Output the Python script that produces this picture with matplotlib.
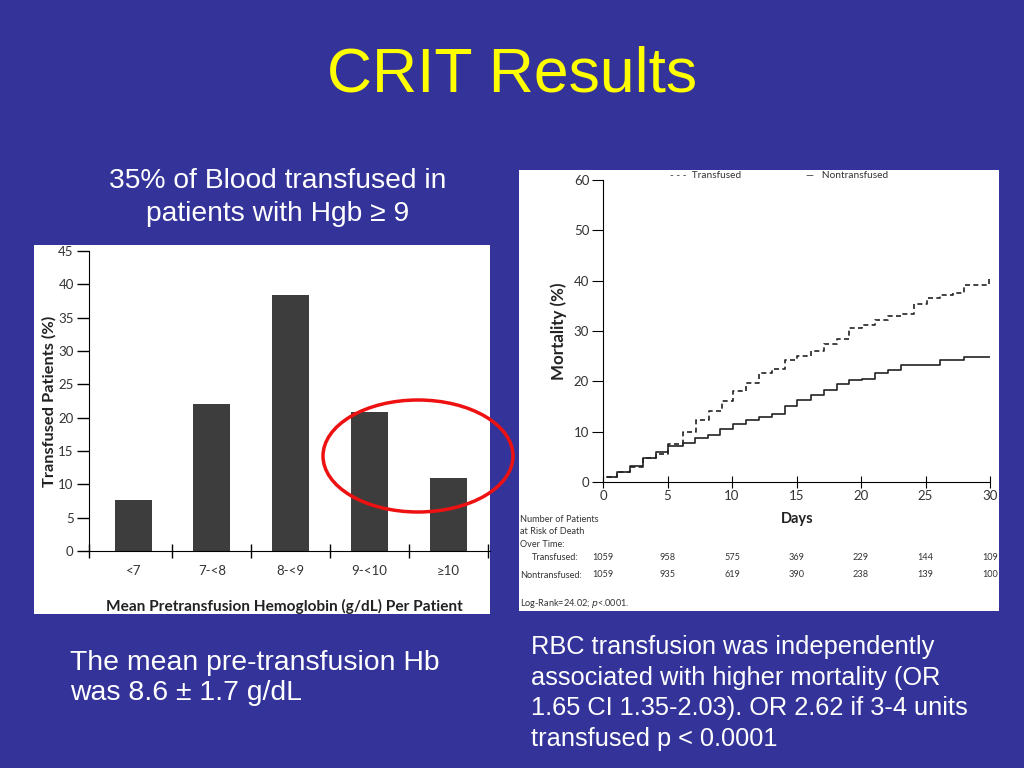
import matplotlib
matplotlib.use("Agg")
import matplotlib.pyplot as plt
from matplotlib.patches import Rectangle, Ellipse

# bar chart data
hgb_groups = ["<7", "7-<8", "8-<9", "9-<10", "\u226510"]
transfused_pct = [7.65, 22.1, 38.4, 20.85, 10.9]

# Kaplan-Meier style curves (step at each day)
days_tr = [0.3, 1.1, 2.1, 3.1, 4.1, 5.0, 6.2, 7.2, 8.2, 9.2, 10.1, 11.1, 12.1, 13.1, 14.1,
           15.0, 16.1, 17.1, 18.1, 19.1, 20.1, 21.1, 22.1, 23.1, 24.1, 25.1, 26.1, 27.1,
           28.0, 29.9, 30.0]
mort_tr = [1.0, 2.0, 3.0, 4.7, 5.6, 7.5, 10.0, 12.4, 14.2, 16.0, 18.0, 19.6, 21.6, 22.5, 24.2,
           25.0, 26.0, 27.5, 28.5, 30.6, 31.2, 32.2, 33.0, 33.4, 35.3, 36.6, 37.1, 37.6,
           39.2, 40.5, 40.5]
days_nt = [0.3, 1.1, 2.1, 3.1, 4.1, 5.0, 6.2, 7.1, 8.1, 9.1, 10.1, 11.1, 12.1, 13.1, 14.1,
           15.0, 16.1, 17.1, 18.1, 19.1, 20.1, 21.1, 22.1, 23.1, 26.1, 28.0, 30.0]
mort_nt = [1.0, 1.9, 3.1, 4.8, 6.0, 7.2, 7.7, 8.8, 9.3, 10.6, 11.6, 12.4, 13.0, 13.5, 15.1,
           16.3, 17.2, 18.2, 19.4, 20.3, 20.5, 21.6, 22.2, 23.2, 24.2, 24.9, 24.9]

risk_days = [0, 5, 10, 15, 20, 25, 30]
risk_tr = ["1059", "958", "575", "369", "229", "144", "109"]
risk_nt = ["1059", "935", "619", "390", "238", "139", "100"]

BG = "#333399"
slide_font = "Liberation Sans"
chart_font = "Lato"
ink = "#333333"

fig = plt.figure(figsize=(10.24, 7.68), dpi=100, facecolor=BG)

fig.text(0.5, 0.902, "CRIT Results", color="#ffff00", fontsize=45,
         ha="center", va="center", family=slide_font)
fig.text(0.271, 0.743, "35% of Blood transfused in\npatients with Hgb \u2265 9", color="white",
         fontsize=20.3, ha="center", va="center", family=slide_font, linespacing=1.36)

# white panels behind the charts
fig.patches.append(Rectangle((0.0332, 0.2005), 0.4453, 0.4805, transform=fig.transFigure,
                             facecolor="white", edgecolor="none", zorder=-5))
fig.patches.append(Rectangle((0.5068, 0.2044), 0.46875, 0.5742, transform=fig.transFigure,
                             facecolor="white", edgecolor="none", zorder=-5))

# ---- bar chart
ax1 = fig.add_axes([0.0869, 0.2826, 0.3916, 0.3906])
ax1.set_facecolor("none")
ax1.bar(range(len(hgb_groups)), transfused_pct, width=0.47, color="#3d3d3d")
ax1.set_xlim(-0.56, 4.53)
ax1.set_ylim(0, 45)
ax1.set_yticks(range(0, 46, 5))
ax1.set_xticks(range(len(hgb_groups)))
ax1.set_xticklabels(hgb_groups)
ax1.set_xticks([-0.56, 0.5, 1.5, 2.5, 3.5, 4.5], minor=True)
ax1.tick_params(axis="x", which="major", length=0, pad=10, labelsize=9.5, labelcolor=ink)
ax1.tick_params(axis="x", which="minor", direction="inout", length=10, width=1)
ax1.tick_params(axis="y", direction="out", length=9, width=1, labelsize=9.5, labelcolor=ink, pad=2)
for lab in ax1.get_xticklabels() + ax1.get_yticklabels():
    lab.set_family(chart_font)
for s in ["top", "right"]:
    ax1.spines[s].set_visible(False)
ax1.set_ylabel("Transfused Patients (%)", fontsize=11.8, fontweight="bold", family=chart_font,
               color="#222222", labelpad=1)
fig.text(0.2775, 0.210, "Mean Pretransfusion Hemoglobin (g/dL) Per Patient", fontsize=11.1,
         fontweight="bold", family=chart_font, color="#222222", ha="center", va="center")

# red ellipse around the two highest Hgb groups
fig.patches.append(Ellipse((418 / 1024, 1 - 456 / 768), 190 / 1024, 112 / 768,
                           transform=fig.transFigure, facecolor="none",
                           edgecolor="#ee1111", linewidth=2.5, zorder=5))

# ---- mortality curves
ax2 = fig.add_axes([0.5889, 0.3724, 0.3779, 0.3932])
ax2.set_facecolor("none")
ax2.step(days_tr, mort_tr, where="post", color="#222222", linewidth=1.2, linestyle=(0, (3, 2)))
ax2.step(days_nt, mort_nt, where="post", color="#222222", linewidth=1.2)
ax2.set_xlim(0, 30)
ax2.set_ylim(0, 60)
ax2.set_xticks(range(0, 31, 5))
ax2.set_yticks(range(0, 61, 10))
ax2.tick_params(axis="x", direction="inout", length=8, labelsize=9.5, labelcolor=ink, pad=2)
ax2.tick_params(axis="y", direction="out", length=8, labelsize=9.5, labelcolor=ink, pad=2)
for lab in ax2.get_xticklabels() + ax2.get_yticklabels():
    lab.set_family(chart_font)
for s in ["top", "right"]:
    ax2.spines[s].set_visible(False)
ax2.set_ylabel("Mortality (%)", fontsize=12.2, fontweight="bold", family=chart_font,
               color="#222222", labelpad=5)
fig.text(797 / 1024, 1 - 519 / 768, "Days", fontsize=10.5, fontweight="bold", family=chart_font,
         color="#222222", ha="center", va="center")

# legend on top
fig.text(670 / 1024, 1 - 176 / 768, "- - -  Transfused", fontsize=7.3, family=chart_font,
         color=ink, va="center")
fig.text(806 / 1024, 1 - 176 / 768, "\u2014   Nontransfused", fontsize=7.3, family=chart_font,
         color=ink, va="center")

# risk table
fs = 6.6
fig.text(520 / 1024, 1 - 532 / 768, "Number of Patients\nat Risk of Death\nOver Time:",
         fontsize=fs, family=chart_font, color=ink, va="center", linespacing=1.45)
fig.text(578 / 1024, 1 - 558 / 768, "Transfused:", fontsize=fs, family=chart_font,
         color=ink, ha="right", va="center")
fig.text(520 / 1024, 1 - 575 / 768, "Nontransfused:", fontsize=fs, family=chart_font,
         color=ink, ha="left", va="center")
for d, a, b in zip(risk_days, risk_tr, risk_nt):
    ax2.text(d, -0.25, a, transform=ax2.get_xaxis_transform(), fontsize=fs,
             family=chart_font, color=ink, ha="center", va="center")
    ax2.text(d, -0.307, b, transform=ax2.get_xaxis_transform(), fontsize=fs,
             family=chart_font, color=ink, ha="center", va="center")
fig.text(520 / 1024, 1 - 604 / 768, "Log-Rank=24.02; $\\it{p}$<.0001.", fontsize=fs,
         family=chart_font, color=ink, va="center")

# bottom notes
fig.text(70 / 1024, 1 - 678 / 768, "The mean pre-transfusion Hb\nwas 8.6 \u00b1 1.7 g/dL",
         color="white", fontsize=20.4, family=slide_font, va="center", linespacing=1.24)
fig.text(531 / 1024, 1 - 693 / 768,
         "RBC transfusion was independently\nassociated with higher mortality (OR\n"
         "1.65 CI 1.35-2.03). OR 2.62 if 3-4 units\ntransfused p < 0.0001",
         color="white", fontsize=18.3, family=slide_font, va="center", linespacing=1.35)

fig.savefig("out.png", dpi=100, facecolor=BG)
